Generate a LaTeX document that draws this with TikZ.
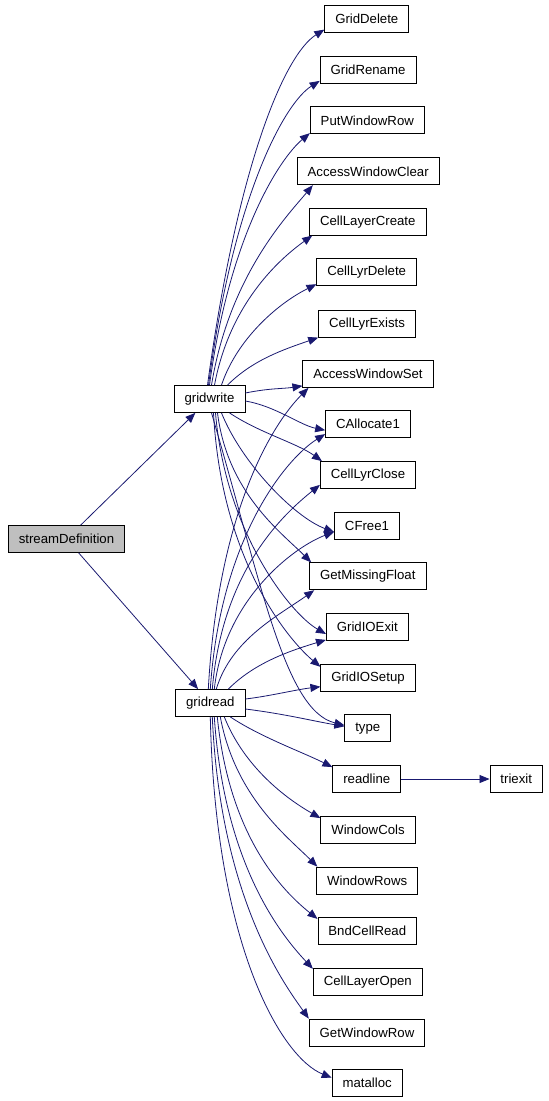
\documentclass[tikz,border=0pt]{standalone}
\usepackage{fontspec}
\setmainfont{Liberation Sans}
\usetikzlibrary{arrows.meta}
\definecolor{edgeblue}{RGB}{25,25,112}
\definecolor{rootgray}{RGB}{191,191,191}
\tikzset{
  fn/.style={draw, fill=white, line width=0.8pt, inner xsep=10.5pt, inner ysep=0pt,
    minimum height=27pt, font=\fontsize{13.2}{15}\selectfont},
  call/.style={draw=edgeblue, line width=0.8pt, -{Stealth[length=10pt,width=8pt,inset=0pt]}},
}
\begin{document}
\begin{tikzpicture}[x=1pt,y=-1pt]
\useasboundingbox (0,0) rectangle (549,1101);
% caller and the two io functions
\node[fn, fill=rootgray] (sd) at (66.5,539) {streamDefinition};
\node[fn] (gw) at (209.5,399) {gridwrite};
\node[fn] (gr) at (210.3,703) {gridread};
% called functions
\node[fn] (GridDelete) at (366.8,18.7) {GridDelete};
\node[fn] (GridRename) at (368,70) {GridRename};
\node[fn] (PutWindowRow) at (367.3,120.3) {PutWindowRow};
\node[fn] (AccessWindowClear) at (368.2,171.3) {AccessWindowClear};
\node[fn] (CellLayerCreate) at (367.8,221.7) {CellLayerCreate};
\node[fn] (CellLyrDelete) at (366.7,272.3) {CellLyrDelete};
\node[fn] (CellLyrExists) at (367,323.7) {CellLyrExists};
\node[fn] (AccessWindowSet) at (368,374) {AccessWindowSet};
\node[fn] (CAllocate1) at (368,424.2) {CAllocate1};
\node[fn] (CellLyrClose) at (368,475) {CellLyrClose};
\node[fn] (CFree1) at (367,526) {CFree1};
\node[fn] (GetMissingFloat) at (367.8,576.3) {GetMissingFloat};
\node[fn] (GridIOExit) at (367.3,627) {GridIOExit};
\node[fn] (GridIOSetup) at (368,677.7) {GridIOSetup};
\node[fn] (type) at (367.8,728.3) {type};
\node[fn] (readline) at (366.8,779) {readline};
\node[fn] (triexit) at (516.2,779) {triexit};
\node[fn] (WindowCols) at (368,830) {WindowCols};
\node[fn] (WindowRows) at (367.2,880.5) {WindowRows};
\node[fn] (BndCellRead) at (367.3,930.8) {BndCellRead};
\node[fn] (CellLayerOpen) at (367.8,981.7) {CellLayerOpen};
\node[fn] (GetWindowRow) at (367,1032.5) {GetWindowRow};
\node[fn] (matalloc) at (367.2,1082.7) {matalloc};
% streamDefinition calls
\draw[call] (sd) -- (gw);
\draw[call] (sd) -- (gr);
% gridwrite calls
\draw[call] ([xshift=-2pt]gw.north) .. controls +(30,-220) and +(-40,25) .. ([yshift=3pt]GridDelete.south west);
\draw[call] ([xshift=-1pt]gw.north) .. controls +(25,-190) and +(-35,22) .. ([yshift=3pt]GridRename.south west);
\draw[call] (gw.north) .. controls +(20,-150) and +(-30,25) .. ([yshift=1pt]PutWindowRow.south west);
\draw[call] ([xshift=2pt]gw.north) .. controls +(18,-110) and +(-25,30) .. ([xshift=16pt]AccessWindowClear.south west);
\draw[call] ([xshift=5pt]gw.north) .. controls +(15,-80) and +(-35,25) .. ([xshift=3pt]CellLayerCreate.south west);
\draw[call] ([xshift=12pt]gw.north) .. controls +(15,-45) and +(-40,20) .. ([yshift=2pt]CellLyrDelete.south west);
\draw[call] ([xshift=18pt]gw.north) .. controls +(25,-25) and +(-35,12) .. (CellLyrExists.south west);
\draw[call] ([yshift=6pt]gw.east) .. controls +(25,-5) and +(-20,3) .. ([yshift=2pt]AccessWindowSet.south west);
\draw[call] ([yshift=-2pt]gw.east) .. controls +(30,5) and +(-25,-5) .. ([yshift=-6pt]CAllocate1.west);
\draw[call] ([xshift=20pt]gw.south) .. controls +(30,20) and +(-25,-18) .. ([xshift=2pt]CellLyrClose.north west);
\draw[call] ([xshift=12pt]gw.south) .. controls +(20,50) and +(-40,-15) .. ([yshift=-6pt]CFree1.west);
\draw[call] ([xshift=8pt]gw.south) .. controls +(10,80) and +(-30,-30) .. ([xshift=2pt]GetMissingFloat.north west);
\draw[call] ([xshift=6pt]gw.south) .. controls +(10,120) and +(-35,-20) .. ([yshift=-7pt]GridIOExit.west);
\draw[call] ([xshift=4pt]gw.south) .. controls +(8,150) and +(-30,-25) .. ([yshift=-3pt]GridIOSetup.north west);
\draw[call] ([xshift=2pt]gw.south) .. controls +(50,170) and +(-60,-15) .. ([yshift=3pt]type.west);
% gridread calls
\draw[call] ([xshift=-2pt]gr.north) .. controls +(10,-180) and +(-35,35) .. ([xshift=6pt]AccessWindowSet.south west);
\draw[call] (gr.north) .. controls +(10,-150) and +(-40,25) .. ([yshift=4pt]CAllocate1.south west);
\draw[call] ([xshift=2pt]gr.north) .. controls +(10,-120) and +(-35,28) .. ([yshift=4pt]CellLyrClose.south west);
\draw[call] ([xshift=4pt]gr.north) .. controls +(10,-90) and +(-40,15) .. ([yshift=8pt]CFree1.south west);
\draw[call] ([xshift=6pt]gr.north) .. controls +(15,-50) and +(-35,25) .. ([xshift=5pt]GetMissingFloat.south west);
\draw[call] ([xshift=18pt]gr.north) .. controls +(25,-25) and +(-40,12) .. ([yshift=1pt]GridIOExit.south west);
\draw[call] ([yshift=4pt]gr.east) .. controls +(25,-3) and +(-25,3) .. ([yshift=-9pt]GridIOSetup.west);
\draw[call] ([yshift=-6pt]gr.east) .. controls +(40,5) and +(-30,-5) .. ([yshift=2pt]type.west);
\draw[call] ([xshift=20pt]gr.south) .. controls +(30,20) and +(-30,-15) .. ([yshift=-2pt]readline.north west);
\draw[call] ([xshift=14pt]gr.south) .. controls +(20,50) and +(-35,-20) .. ([yshift=-2pt]WindowCols.north west);
\draw[call] ([xshift=10pt]gr.south) .. controls +(15,80) and +(-30,-30) .. ([xshift=1pt]WindowRows.north west);
\draw[call] ([xshift=7pt]gr.south) .. controls +(12,120) and +(-35,-28) .. ([yshift=-2pt]BndCellRead.north west);
\draw[call] ([xshift=4pt]gr.south) .. controls +(10,150) and +(-30,-32) .. ([yshift=-1pt]CellLayerOpen.north west);
\draw[call] ([xshift=2pt]gr.south) .. controls +(8,180) and +(-25,-35) .. (GetWindowRow.north west);
\draw[call] (gr.south) .. controls +(5,230) and +(-50,-20) .. ([yshift=5pt]matalloc.west);
% readline calls
\draw[call] (readline) -- (triexit);
\end{tikzpicture}
\end{document}
